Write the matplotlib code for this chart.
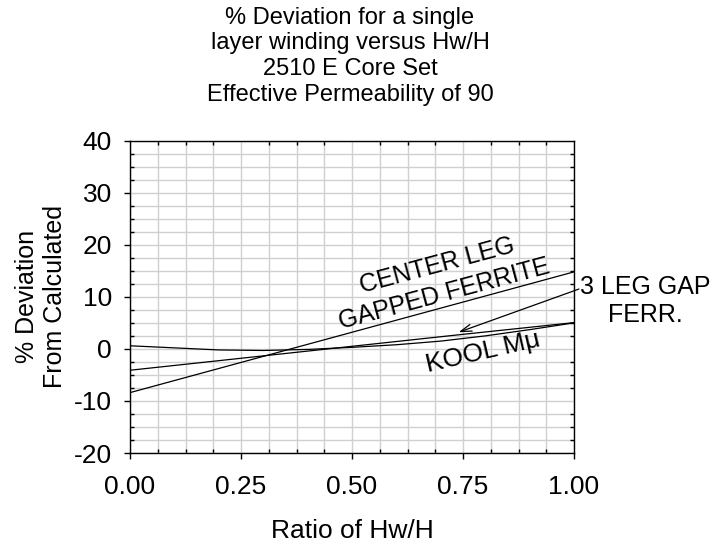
import numpy as np
import matplotlib
matplotlib.use('Agg')
import matplotlib.pyplot as plt
from matplotlib.ticker import MultipleLocator, FormatStrFormatter

plt.rcParams['font.family'] = ['Liberation Sans', 'DejaVu Sans']
plt.rcParams['axes.unicode_minus'] = False

# Datos
ratio_cl = [0.0, 0.25, 0.50, 0.75, 1.0]
dev_center_leg = [-8.4, -2.6, 3.2, 9.0, 14.8]

ratio_3leg = [0.0, 0.25, 0.50, 0.75, 1.0]
dev_3leg = [-4.1, -1.8, 0.5, 2.8, 5.05]

ratio_kool = [0.0, 0.1, 0.2, 0.3, 0.4, 0.5, 0.6, 0.7, 0.8, 0.9, 1.0]
dev_kool = [0.6, 0.2, -0.2, -0.3, -0.1, 0.3, 0.8, 1.5, 2.5, 3.7, 5.0]

xticks = [0.0, 0.25, 0.50, 0.75, 1.0]
yticks = [-20, -10, 0, 10, 20, 30, 40]

title = ('% Deviation for a single\nlayer winding versus Hw/H\n'
         '2510 E Core Set\nEffective Permeability of 90')

fig = plt.figure(figsize=(7.1, 5.42), dpi=100)
ax = fig.add_axes([0.1831, 0.1642, 0.6254, 0.5762])

ax.plot(ratio_cl, dev_center_leg, color='black', lw=0.9)
ax.plot(ratio_3leg, dev_3leg, color='black', lw=0.9)
ax.plot(ratio_kool, dev_kool, color='black', lw=0.9)

ax.set_xlim(0, 1)
ax.set_ylim(-20, 40)
ax.set_xticks(xticks)
ax.set_yticks(yticks)
ax.xaxis.set_major_formatter(FormatStrFormatter('%.2f'))
ax.xaxis.set_minor_locator(MultipleLocator(0.0625))
ax.yaxis.set_minor_locator(MultipleLocator(2.5))

ax.grid(which='both', color='#d0d0d0', lw=1.0)
ax.set_axisbelow(True)

ax.tick_params(which='major', direction='out', length=4, width=1,
               labelsize=19)
ax.tick_params(axis='x', which='major', pad=12)
ax.tick_params(axis='y', which='major', pad=9)
ax.tick_params(which='minor', direction='in', length=3, width=1,
               top=True, right=True)
for s in ax.spines.values():
    s.set_linewidth(1.0)

ax.set_xlabel('Ratio of Hw/H', fontsize=19, labelpad=14)
ax.set_ylabel('% Deviation\nFrom Calculated', fontsize=18, labelpad=5)

fig.text(0.493, 0.988, title, ha='center', va='top', fontsize=17,
         linespacing=1.22)

# Etiquetas de las curvas
ax.text(0.70, 13.3, 'CENTER LEG\nGAPPED FERRITE', fontsize=18, rotation=15,
        rotation_mode='anchor', ha='center', va='center', linespacing=1.3)
ax.text(0.795, -0.6, 'KOOL M\u03bc', fontsize=19, rotation=13,
        rotation_mode='anchor', ha='center', va='center')
ax.text(1.16, 9.2, '3 LEG GAP\nFERR.', fontsize=18, ha='center',
        va='center', multialignment='center', linespacing=1.2)
ax.annotate('', xy=(0.74, 3.2), xytext=(1.011, 11.5),
            arrowprops=dict(arrowstyle='->,head_length=0.8,head_width=0.25',
                            lw=0.9, color='black', shrinkA=0, shrinkB=0),
            annotation_clip=False)

fig.savefig('out.png', dpi=100)
